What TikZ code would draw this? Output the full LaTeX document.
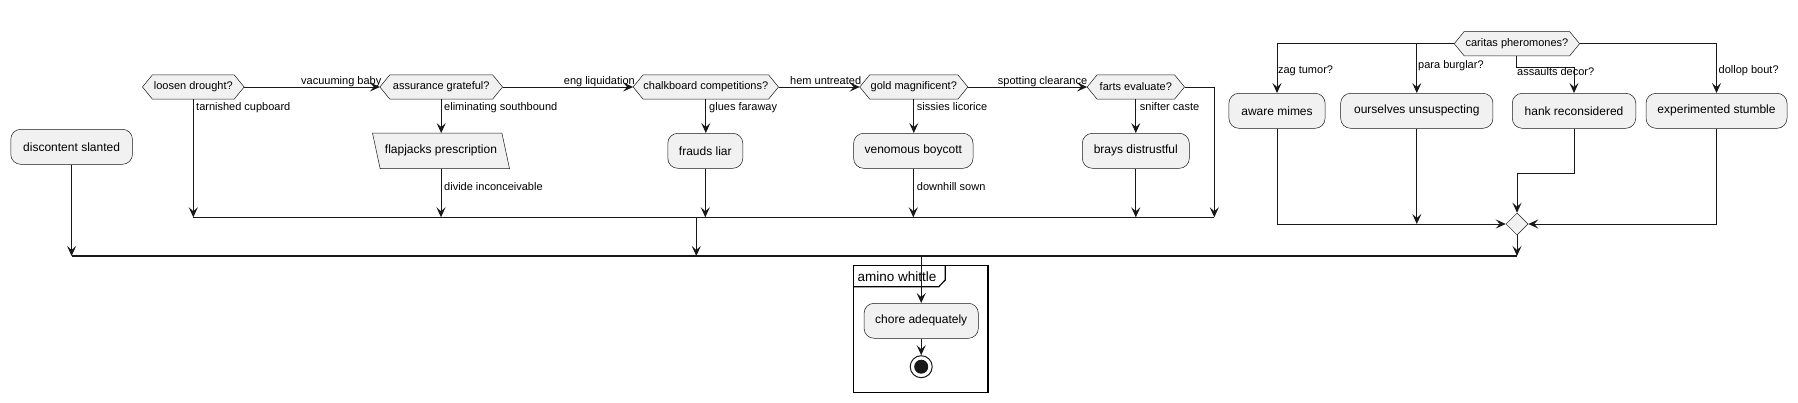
\documentclass[tikz,border=0pt]{standalone}
\usepackage{fontspec}
\setmainfont{Liberation Sans}
\usetikzlibrary{arrows.meta,shapes.geometric,calc}
\pgfdeclarelayer{background}
\pgfdeclarelayer{canvas}
\pgfsetlayers{canvas,background,main}
\definecolor{boxfill}{HTML}{F1F1F1}
\definecolor{linec}{HTML}{181818}
\newcommand\fs[1]{\fontsize{#1}{#1}\selectfont}
\newcommand\hexa[5]{%
  \node[hexnode, minimum width=#4pt] (#1) at (#2,#3) {#5};
  \begin{pgfonlayer}{background}
  \filldraw[shapeline] (#1.west) -- ([xshift=10pt]#1.north west) -- ([xshift=-10pt]#1.north east) -- (#1.east) -- ([xshift=-10pt]#1.south east) -- ([xshift=10pt]#1.south west) -- cycle;
  \end{pgfonlayer}}
\begin{document}
\begin{tikzpicture}[x=1pt,y=-1pt,
  >={Stealth[length=10pt,width=9pt,inset=4pt]},
  shapeline/.style={draw=linec, fill=boxfill, line width=0.5pt},
  box/.style={shapeline, rounded corners=10pt, minimum height=35pt, inner sep=0pt, font=\fs{12}},
  hexnode/.style={inner sep=0pt, minimum height=24pt, font=\fs{11}},
  parbase/.style={inner sep=0pt, minimum height=35pt, font=\fs{12}},
  merge/.style={shapeline, diamond, minimum width=22pt, minimum height=22pt, inner sep=0pt},
  arr/.style={->, draw=linec, line width=1pt},
  ln/.style={draw=linec, line width=1pt},
  barline/.style={draw=linec, line width=1.6pt},
  lbl/.style={anchor=base west, inner sep=0pt, font=\fs{11}},
  frame/.style={draw=black, line width=1.5pt}]
\useasboundingbox (0,0) rectangle (1798,402);
\begin{pgfonlayer}{canvas}
\fill[white] (0,0) rectangle (1798,402);
\end{pgfonlayer}

% bars
\coordinate (ib) at (0,217.3);
\coordinate (bb) at (0,256);

% nodes
\node[box, minimum width=121.7pt] (disc) at (71.6,146.8) {discontent slanted};
\hexa{loosen}{193.3}{87}{101.3}{loosen drought?}
\hexa{assur}{441.2}{87}{122.3}{assurance grateful?}
\node[parbase, minimum width=136.6pt] (flap) at (441,150.8) {flapjacks prescription};
\begin{pgfonlayer}{background}
\filldraw[shapeline] (flap.north west) -- ([xshift=-7.6pt]flap.north east) -- (flap.south east) -- ([xshift=7.6pt]flap.south west) -- cycle;
\end{pgfonlayer}
\hexa{chalk}{705.8}{87}{145}{chalkboard competitions?}
\node[box, minimum width=75pt] (frauds) at (705.3,150.8) {frauds liar};
\hexa{gold}{913.8}{87}{107.7}{gold magnificent?}
\node[box, minimum width=119.4pt] (venom) at (913.3,150.8) {venomous boycott};
\hexa{farts}{1135.8}{87}{97}{farts evaluate?}
\node[box, minimum width=107pt] (brays) at (1135.8,150.8) {brays distrustful};
\hexa{carit}{1516.9}{43.7}{125}{caritas pheromones?}
\node[box, minimum width=96.2pt] (aware) at (1277,110.8) {aware mimes};
\node[box, minimum width=152.3pt] (ours) at (1416.8,110.8) {ourselves unsuspecting};
\node[box, minimum width=123.5pt] (hank) at (1574,110.8) {hank reconsidered};
\node[box, minimum width=141pt] (exper) at (1716.5,110.8) {experimented stumble};
\node[merge] (mrg) at (1517,224) {};

% frame
\draw[frame] (853.3,265.7) rectangle (988,392.7);
\draw[frame, line width=1.2pt] (853.3,286.7) -- (938.7,286.7) -- (945.3,280) -- (945.3,265.7);
\node[anchor=base west, inner sep=0pt, font=\fs{13.5}] (ftitle) at (857.3,281) {amino whittle};
\node[box, minimum width=114.3pt] (chore) at (921.2,320.8) {chore adequately};
\node[circle, draw=linec, fill=white, line width=1pt, minimum size=22pt, inner sep=0pt] (end) at (921.2,366.7) {};
\fill[linec] (end.center) circle (7pt);

% connectors, left chain
\draw[arr] (disc.south) -- (disc.south |- bb);
\draw[arr] (loosen.east) -- (assur.west);
\draw[arr] (loosen.south) -- (loosen.south |- ib);
\draw[arr] (assur.east) -- (chalk.west);
\draw[arr] (assur.south) -- (assur.south |- flap.north);
\draw[arr] (flap.south) -- (flap.south |- ib);
\draw[arr] (chalk.east) -- (gold.west);
\draw[arr] (chalk.south) -- (chalk.south |- frauds.north);
\draw[arr] (frauds.south) -- (frauds.south |- ib);
\draw[arr] (gold.east) -- (farts.west);
\draw[arr] (gold.south) -- (gold.south |- venom.north);
\draw[arr] (venom.south) -- (venom.south |- ib);
\draw[arr] (farts.south) -- (farts.south |- brays.north);
\draw[arr] (brays.south) -- (brays.south |- ib);
\coordinate (fr) at (1214.3,87);
\draw[arr] (farts.east) -- (fr) -- (fr |- ib);
\draw[barline] (loosen.south |- ib) -- (fr |- ib);
\coordinate (ibo) at (696.3,217.3);
\draw[arr] (ibo) -- (ibo |- bb);

% right group
\coordinate (cl) at (1277,43.7);
\draw[arr] (carit.west) -- (cl) -- (aware.north);
\draw[arr] (ours.north |- carit.west) -- (ours.north);
\coordinate (cs) at (1516.9,67.3);
\draw[arr] (carit.south) -- (cs) -- (cs -| hank.north) -- (hank.north);
\draw[arr] (carit.east) -- (exper.north |- carit.east) -- (exper.north);
\draw[arr] (aware.south) -- (aware.south |- mrg.west) -- (mrg.west);
\draw[arr] (ours.south) -- (ours.south |- mrg.west);
\coordinate (hk) at (1574,173.3);
\draw[arr] (hank.south) -- (hank.south |- hk) -- (hk -| mrg.north) -- (mrg.north);
\draw[arr] (exper.south) -- (exper.south |- mrg.east) -- (mrg.east);
\draw[arr] (mrg.south) -- (mrg.south |- bb);

% big bar and final
\draw[barline] (disc.south |- bb) -- (mrg.south |- bb);
\draw[arr] (chore.north |- bb) -- (chore.north);
\draw[arr] (chore.south) -- (end.north);

% labels
\node[lbl] (l1) at (301,84) {vacuuming baby};
\node[lbl] (l2) at (196,110) {tarnished cupboard};
\node[lbl] (l3) at (444,110) {eliminating southbound};
\node[lbl] (l4) at (444,190) {divide inconceivable};
\node[lbl] (l5) at (563.7,84) {eng liquidation};
\node[lbl] (l6) at (709,110) {glues faraway};
\node[lbl] (l7) at (790,84) {hem untreated};
\node[lbl] (l8) at (916.7,110) {sissies licorice};
\node[lbl] (l9) at (916.7,190) {downhill sown};
\node[lbl] (l10) at (997.7,84) {spotting clearance};
\node[lbl] (l11) at (1139.7,110) {snifter caste};
\node[lbl] (l12) at (1277.8,73) {zag tumor?};
\node[lbl] (l13) at (1418,68) {para burglar?};
\node[lbl] (l14) at (1517,75) {assaults decor?};
\node[lbl] (l15) at (1718.5,73) {dollop bout?};
\end{tikzpicture}
\end{document}
